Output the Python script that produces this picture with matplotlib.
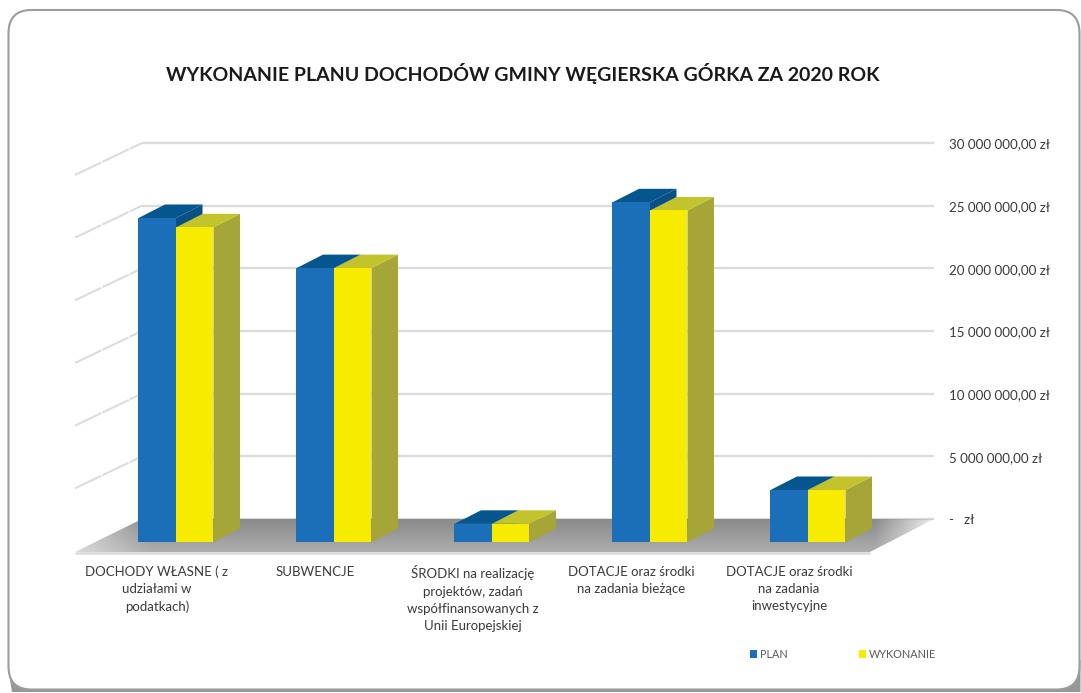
import numpy as np
import matplotlib
matplotlib.use("Agg")
import matplotlib.pyplot as plt
from matplotlib.patches import FancyBboxPatch, Patch, Polygon

# ---- data ----
title = "WYKONANIE PLANU DOCHODÓW GMINY WĘGIERSKA GÓRKA ZA 2020 ROK"
categories = [
    "DOCHODY WŁASNE ( z\nudziałami w\npodatkach)",
    "SUBWENCJE",
    "ŚRODKI na realizację\nprojektów, zadań\nwspółfinansowanych z\nUnii Europejskiej",
    "DOTACJE oraz środki\nna zadania bieżące",
    "DOTACJE oraz środki\nna zadania\ninwestycyjne",
]
plan = [25.85e6, 21.85e6, 1.45e6, 27.1e6, 4.15e6]
wykonanie = [25.1e6, 21.85e6, 1.45e6, 26.45e6, 4.15e6]
tick_values = [0, 5e6, 10e6, 15e6, 20e6, 25e6, 30e6]
tick_labels = ["-   zł", "5 000 000,00 zł", "10 000 000,00 zł", "15 000 000,00 zł",
               "20 000 000,00 zł", "25 000 000,00 zł", "30 000 000,00 zł"]
series_names = ["PLAN", "WYKONANIE"]

# ---- style ----
W, H = 1081, 693
FONT = "Lato"
C_PLAN = dict(front="#1a6fb8", top="#05558f", side="#0a4f86")
C_WYK = dict(front="#f7ec00", top="#c3c42c", side="#a5a637")
TXT = "#3a3a3a"

fig = plt.figure(figsize=(W / 100, H / 100), dpi=100, facecolor="white")

# frame layer in pixel coordinates
bg = fig.add_axes([0, 0, 1, 1], zorder=0)
bg.set_xlim(0, W); bg.set_ylim(H, 0); bg.axis("off")
bg.add_patch(Polygon([(8, 668), (12, 692), (1080.5, 692), (1080.5, 660), (1040, 660), (40, 668)],
                     closed=True, fc="#979797", ec="none"))
bg.add_patch(FancyBboxPatch((8.5, 10), 1071, 679.5,
                            boxstyle="round,pad=0,rounding_size=23",
                            fc="white", ec="#9c9c9c", lw=1.5))

# chart layer: x in category units, y in PLN; front plane of the bars
px_cat = 158.0; x0_px = 176.0
px_val = 62.67 / 5e6; y0_px = 542.0
ax = fig.add_axes([0, 0, 1, 1], zorder=1)
ax.patch.set_alpha(0)
ax.axis("off")
xlim = (-x0_px / px_cat, (W - x0_px) / px_cat)
ylim = ((y0_px - H) / px_val, y0_px / px_val)


def dx(p):
    return p / px_cat


def dy(p):
    return p / px_val


x_wall_l = dx(142 - x0_px)
x_wall_r = dx(934 - x0_px)
x_front_l = dx(75 - x0_px)
x_front_r = dx(870 - x0_px)

# floor with lighter ends
fl = Polygon([(x_wall_l, dy(23)), (x_wall_r, dy(23)), (x_front_r, dy(-10)), (x_front_l, dy(-10))],
             closed=True, transform=ax.transData, fc="none", ec="none")
ax.add_patch(fl)
xs = np.linspace(0, 1, 400)
ys = np.linspace(0, 1, 60)
alpha_x = np.clip(np.minimum(0.45 + xs / 0.16, 0.15 + (1 - xs) / 0.08), 0, 1)
shade = 0.54 + 0.14 * ys
grad = np.ones((60, 400, 4))
grad[..., 0] = grad[..., 1] = grad[..., 2] = shade[:, None]
grad[..., 3] = alpha_x[None, :]
im = ax.imshow(grad, extent=(x_front_l, x_wall_r, dy(-10), dy(23)), aspect="auto",
               origin="upper", zorder=1)
im.set_clip_path(fl)
# floor front lip
ax.plot([x_front_l, x_front_r], [dy(-10.5)] * 2, color="#dedede", lw=2.0, zorder=1.2,
        solid_capstyle="butt")

# gridlines on wall and side wall
for v in tick_values:
    yb = v + dy(23)
    yf = v + dy(-9)
    c = "#dcdcdc"
    ax.plot([x_wall_l, x_wall_r], [yb, yb], color=c, lw=1.7, zorder=0.5, solid_capstyle="butt")
    if v > 0:
        ax.plot([x_front_l, x_wall_l], [yf, yb], color=c, lw=1.5, zorder=0.5,
                dashes=(14, 0.6), solid_capstyle="butt")

# bars
bw = 37.5 / px_cat
ddx, ddy = dx(26.5), dy(13.5)


def bar3d(left, val, col, z):
    right = left + bw
    ax.bar(left, val, width=bw, align="edge", color=col["front"], zorder=z + 0.2, lw=0)
    ax.fill([left, left + ddx, right + ddx, right], [val, val + ddy, val + ddy, val],
            color=col["top"], zorder=z + 0.1, lw=0)
    ax.fill([right, right + ddx, right + ddx, right], [0, ddy, val + ddy, val],
            color=col["side"], zorder=z, lw=0)


for i, (p, w) in enumerate(zip(plan, wykonanie)):
    bar3d(i - bw, p, C_PLAN, 2 + i * 0.01)
    bar3d(i, w, C_WYK, 3 + i * 0.01)

# axis labels
for v, lab in zip(tick_values, tick_labels):
    ax.text(dx(949 - x0_px), v + dy(21.5), lab, family=FONT, fontsize=9.6, color=TXT,
            ha="left", va="center", zorder=5)

for i, lab in enumerate(categories):
    ax.text(i - dx(19), dy(-23.5), lab, family=FONT, fontsize=9.55, color=TXT,
            ha="center", va="top", linespacing=1.53, multialignment="center", zorder=5)

ax.set_xlim(*xlim)
ax.set_ylim(*ylim)

# title
bg.text(523, 73, title, family=FONT, fontweight="bold", fontsize=14.03,
        color="#1a1a1a", ha="center", va="center")

# legend
handles = [Patch(fc=C_PLAN["front"], ec="none"), Patch(fc=C_WYK["front"], ec="none")]
leg = fig.legend(handles, series_names, ncol=2, frameon=False,
                 loc="center left", bbox_to_anchor=(750 / W, 1 - 654.5 / H),
                 prop=dict(family=FONT, size=7.8), labelcolor="#595959",
                 handlelength=0.65, handleheight=0.72, handletextpad=0.25,
                 columnspacing=6.6, borderpad=0, borderaxespad=0)
leg.set_zorder(6)

fig.savefig("out.png", dpi=100)
